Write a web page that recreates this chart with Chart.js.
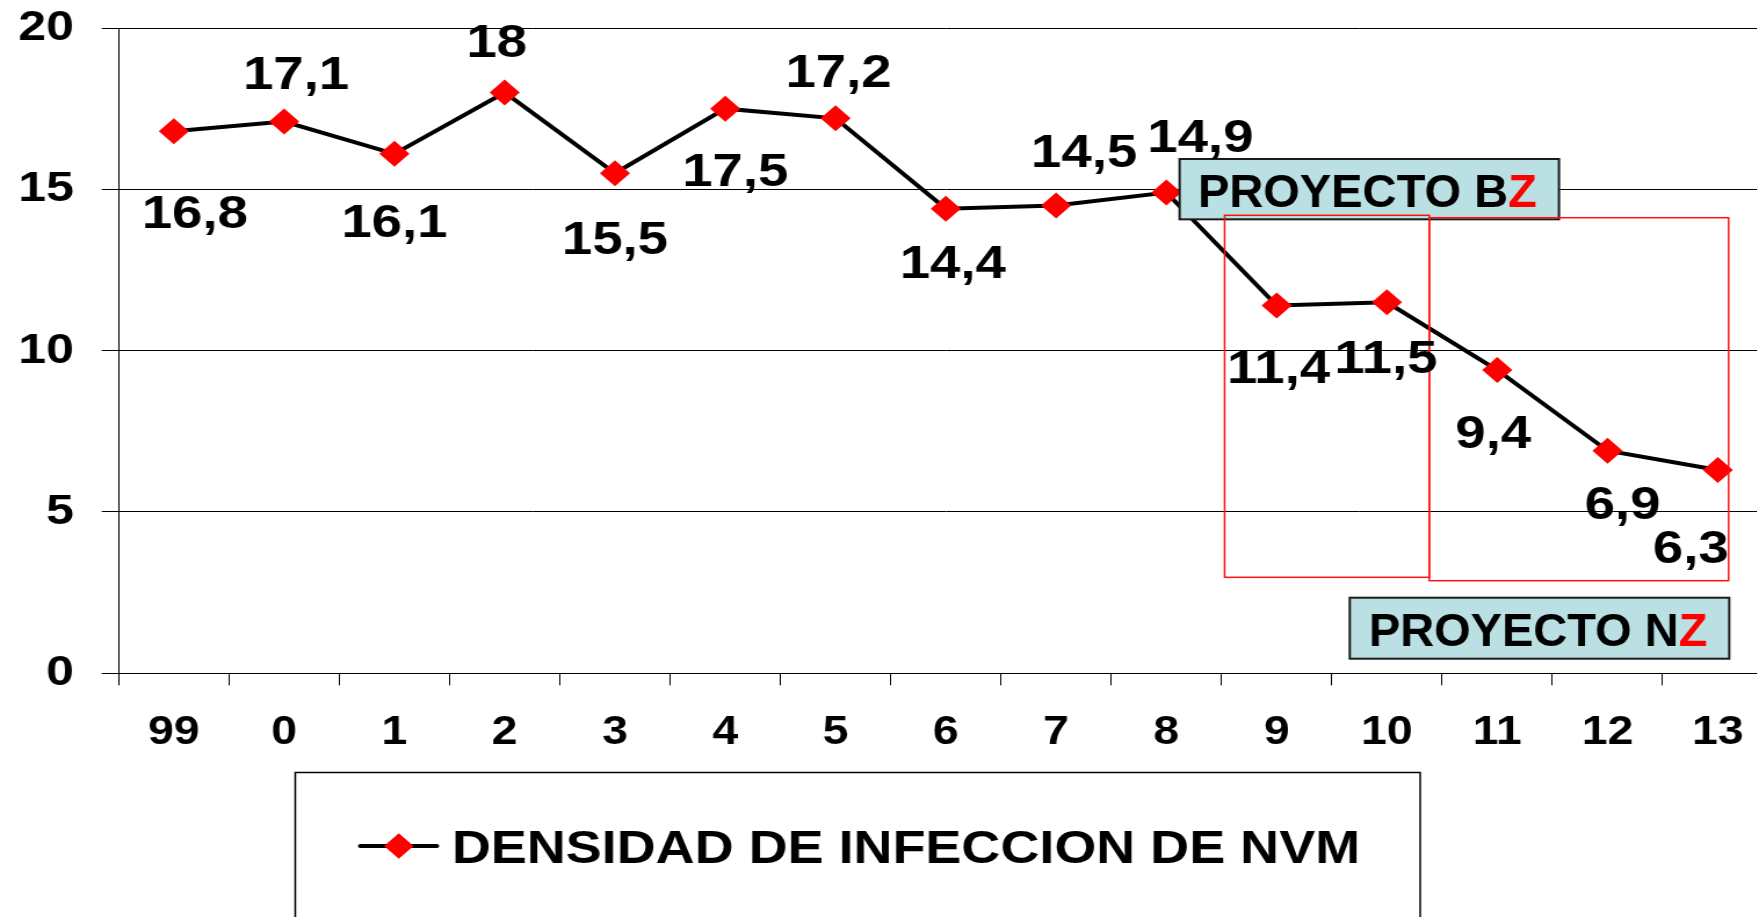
<!DOCTYPE html>
<html><head><meta charset="utf-8">
<script src="https://cdn.jsdelivr.net/npm/chart.js@4.4.0/dist/chart.umd.min.js"></script>
<style>
html,body{margin:0;padding:0;background:#fff;overflow:hidden;width:1757px;height:917px;}
#wrap{width:1757px;height:917px;overflow:hidden;position:relative;background:#fff;}
canvas{display:block;}
</style></head><body>
<div id="wrap"><canvas id="c" width="1541" height="917" style="width:1787.6px;height:917px"></canvas></div>
<script>
// ---- data ----
const categories = ['99','0','1','2','3','4','5','6','7','8','9','10','11','12','13'];
const densidad = [16.8,17.1,16.1,18,15.5,17.5,17.2,14.4,14.5,14.9,11.4,11.5,9.4,6.9,6.3];
const seriesLabel = 'DENSIDAD DE INFECCION DE NVM';
const yMin = 0, yMax = 20, yStep = 5;

// ---- layout / style (not data) ----
const SX = 1.16; // horizontal stretch of the original picture
const FONT = '"Liberation Sans", Arial, Helvetica, sans-serif';
// label offsets from their point, in screen px [dx, dy]
const labelOffsets = [[21,80],[12,-49],[0,66],[-8,-52],[0,64],[10,61],[3,-48],[7,52],[28,-55],[34,-57],[2,61],[-1,54],[-4,61],[15,52],[-27,76]];
// annotation rectangles in axis units (x: category index, y: value)
const redBoxes = [
  {x0:9.528, x1:11.384, y0:14.195, y1:2.975},
  {x0:11.384, x1:14.098, y0:14.12, y1:2.87}
];
const textBoxes = [
  {x0:9.12, x1:12.56, y0:15.94, y1:14.07, tx:9.287, ty:14.46, text:'PROYECTO B', red:'Z'},
  {x0:10.663, x1:14.104, y0:2.343, y1:0.4525, tx:10.835, ty:0.846, text:'PROYECTO N', red:'Z'}
];

const fmt = v => String(v).replace('.', ',');

const annotations = {
  id: 'annotations',
  afterDatasetsDraw(chart) {
    const ctx = chart.ctx, xs = chart.scales.x, ys = chart.scales.y;
    ctx.save();
    // text boxes
    textBoxes.forEach(b => {
      const l = xs.getPixelForValue(b.x0), r = xs.getPixelForValue(b.x1);
      const t = ys.getPixelForValue(b.y0), btm = ys.getPixelForValue(b.y1);
      ctx.fillStyle = '#bae0e3';
      ctx.fillRect(l, t, r - l, btm - t);
      ctx.strokeStyle = '#1a1a1a';
      ctx.lineWidth = 2;
      ctx.strokeRect(l, t, r - l, btm - t);
      const tx = xs.getPixelForValue(b.tx), ty = ys.getPixelForValue(b.ty);
      ctx.save();
      ctx.translate(tx, ty);
      ctx.scale(1 / SX, 1);
      ctx.font = 'bold 47px ' + FONT;
      ctx.textAlign = 'left';
      ctx.textBaseline = 'alphabetic';
      ctx.fillStyle = '#000';
      ctx.fillText(b.text, 0, 0);
      const w = ctx.measureText(b.text).width;
      ctx.fillStyle = '#ff0000';
      ctx.fillText(b.red, w, 0);
      ctx.restore();
    });
    // red boxes
    ctx.strokeStyle = '#ff1010';
    ctx.lineWidth = 1.5;
    redBoxes.forEach(b => {
      const l = xs.getPixelForValue(b.x0), r = xs.getPixelForValue(b.x1);
      const t = ys.getPixelForValue(b.y0), btm = ys.getPixelForValue(b.y1);
      ctx.strokeRect(l, t, r - l, btm - t);
    });
    // data labels
    const meta = chart.getDatasetMeta(0);
    const size = 47;
    ctx.font = 'bold ' + size + 'px ' + FONT;
    ctx.fillStyle = '#000';
    ctx.textAlign = 'center';
    ctx.textBaseline = 'alphabetic';
    meta.data.forEach((el, i) => {
      const off = labelOffsets[i] || [0, 0];
      ctx.fillText(fmt(densidad[i]), el.x + off[0] / SX, el.y + off[1] + 0.358 * size);
    });
    ctx.restore();
  },
  afterDraw(chart) {
    const ctx = chart.ctx;
    const ds = chart.data.datasets[0];
    ctx.save();
    ctx.strokeStyle = '#000';
    ctx.lineWidth = 1.5;
    ctx.strokeRect(254.5, 772.5, 969.5, 300);
    const cy = 846;
    ctx.strokeStyle = ds.borderColor;
    ctx.lineWidth = ds.borderWidth;
    ctx.lineCap = 'round';
    ctx.beginPath();
    ctx.moveTo(310.5, cy);
    ctx.lineTo(376.5, cy);
    ctx.stroke();
    ctx.fillStyle = ds.pointBackgroundColor;
    Chart.helpers.drawPoint(ctx, {pointStyle: ds.pointStyle, radius: 12.5, borderWidth: 0, rotation: 0}, 343.7, cy);
    ctx.fill();
    const fs = 46.5;
    ctx.font = 'bold ' + fs + 'px ' + FONT;
    ctx.fillStyle = '#000';
    ctx.textAlign = 'left';
    ctx.textBaseline = 'alphabetic';
    ctx.fillText(ds.label, 389.4, 846.7 + 0.358 * fs);
    ctx.restore();
  }
};

new Chart(document.getElementById('c'), {
  type: 'line',
  data: {
    labels: categories,
    datasets: [{
      label: seriesLabel,
      data: densidad,
      borderColor: '#000000',
      borderWidth: 4,
      tension: 0,
      pointStyle: 'rectRot',
      pointRadius: 13,
      pointHoverRadius: 13,
      pointBackgroundColor: '#ff0000',
      pointBorderColor: '#ff0000',
      pointBorderWidth: 0,
      fill: false
    }]
  },
  options: {
    responsive: false,
    devicePixelRatio: 1,
    animation: false,
    events: [],
    layout: { padding: { top: 28, right: 0, left: 0, bottom: 917 - 673.3 - 80 } },
    plugins: { legend: { display: false }, tooltip: { enabled: false } },
    scales: {
      x: {
        type: 'category',
        offset: true,
        afterFit: s => { s.height = 80; s.paddingLeft = 0; s.paddingRight = 0; s.paddingTop = 0; s.paddingBottom = 0; },
        grid: { offset: true, drawOnChartArea: false, drawTicks: true, tickLength: 12, color: '#000', lineWidth: 1 },
        border: { display: true, color: '#000', width: 1 },
        ticks: { color: '#000', padding: 24, maxRotation: 0, autoSkip: false, font: { family: FONT, size: 40, weight: 'bold' } }
      },
      y: {
        min: yMin, max: yMax,
        afterFit: s => { s.width = 102.3; s.paddingTop = 0; s.paddingBottom = 0; s.paddingLeft = 0; s.paddingRight = 0; },
        grid: { color: '#000', lineWidth: 1, drawTicks: true, tickLength: 14.7 },
        border: { display: true, color: '#000', width: 1 },
        ticks: { stepSize: yStep, color: '#000', padding: 24, font: { family: FONT, size: 43, weight: 'bold' } }
      }
    }
  },
  plugins: [annotations]
});
</script>
</body></html>
